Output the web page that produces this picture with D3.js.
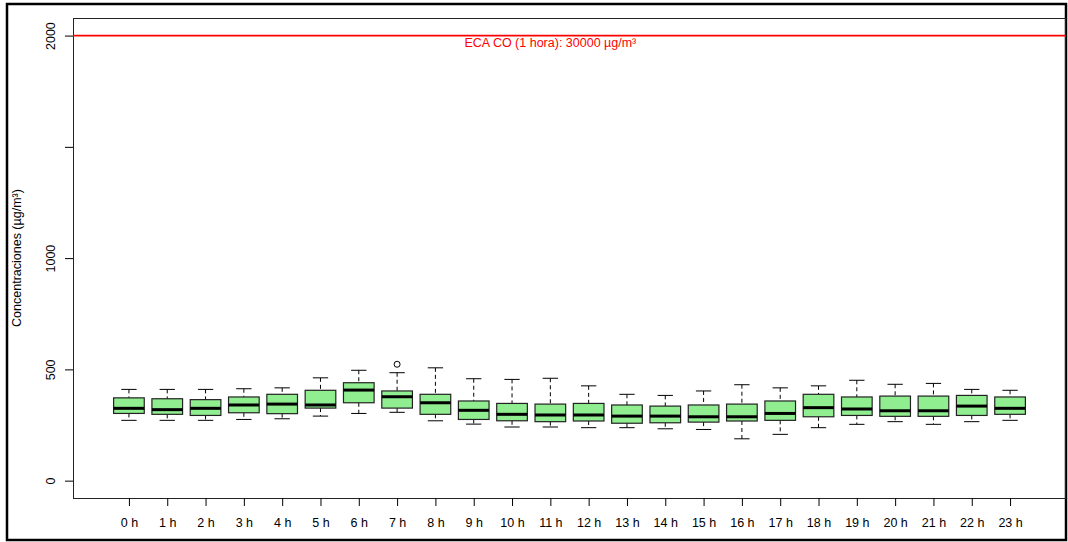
<!DOCTYPE html>
<html>
<head>
<meta charset="utf-8">
<script src="https://cdn.jsdelivr.net/npm/d3@7"></script>
<style>
  body { margin: 0; background: #fff; }
  text { font-family: "Liberation Sans", Arial, sans-serif; }
</style>
</head>
<body>
<svg id="chart" width="1068" height="542"></svg>
<script>
// hourly CO concentrations (ug/m3)
var hours = ["0 h", "1 h", "2 h", "3 h", "4 h", "5 h", "6 h", "7 h", "8 h", "9 h", "10 h", "11 h",
             "12 h", "13 h", "14 h", "15 h", "16 h", "17 h", "18 h", "19 h", "20 h", "21 h", "22 h", "23 h"];
var lowWhisker = [271, 271, 271, 275, 278, 290, 302, 307, 269, 254, 241, 241,
                  238, 238, 233, 230, 188, 208, 238, 253, 265, 253, 265, 271];
var q1 = [302, 298, 293, 305, 301, 326, 350, 326, 298, 275, 269, 265,
          268, 258, 260, 263, 268, 271, 287, 293, 289, 289, 293, 298];
var medians = [325, 319, 325, 340, 344, 340, 407, 377, 350, 316, 298, 295,
               295, 290, 290, 287, 287, 302, 328, 322, 314, 314, 335, 325];
var q3 = [372, 368, 364, 376, 388, 406, 440, 403, 388, 358, 347, 344,
          347, 340, 335, 340, 344, 358, 388, 376, 380, 380, 383, 376];
var highWhisker = [410, 410, 410, 413, 417, 462, 496, 485, 507, 458, 455, 460,
                   426, 388, 383, 403, 431, 417, 426, 451, 433, 437, 410, 406];
var outliers = [{hour: 7, value: 523}];
var yTicks = [0, 500, 1000, 1500, 2000];
var yLabels = ["0", "500", "1000", "", "2000"];
var ecaValue = 2000;
var ecaLabel = "ECA CO (1 hora): 30000 µg/m³";
var yTitle = "Concentraciones (µg/m³)";

var svg = d3.select("#chart");
var plot = {left: 73, right: 1066, top: 18, bottom: 498};

// R style: positions 1..24, xlim 0.5..24.5 with 4% padding
var x = d3.scaleLinear().domain([0.5 - 0.96, 24.5 + 0.96]).range([plot.left, plot.right]);
var y = d3.scaleLinear().domain([-78, 2079]).range([plot.bottom, plot.top]);
var boxW = x(0.4) - x(0);
var capW = x(0.2) - x(0);

// outer frame
svg.append("rect")
    .attr("x", 7).attr("y", 4)
    .attr("width", 1059).attr("height", 536)
    .attr("fill", "none").attr("stroke", "#000").attr("stroke-width", 2.5);

// plot box
svg.append("rect")
    .attr("x", plot.left + 0.5).attr("y", plot.top + 0.5)
    .attr("width", plot.right - plot.left - 1).attr("height", plot.bottom - plot.top)
    .attr("fill", "none").attr("stroke", "#222").attr("stroke-width", 1);

// y axis, labels turned like R's default las=0
var yAxis = d3.axisLeft(y).tickValues(yTicks).tickSize(8)
    .tickFormat(function(d, i) { return yLabels[i]; });
var gy = svg.append("g").attr("transform", "translate(" + plot.left + ",0)").call(yAxis);
gy.select(".domain").remove();
gy.selectAll("line").attr("stroke", "#000");
gy.selectAll("text")
    .attr("font-size", "12.5px")
    .attr("fill", "#000")
    .attr("text-anchor", "middle")
    .attr("x", 0)
    .attr("y", -18)
    .attr("dy", 0)
    .attr("transform", "rotate(-90)");

// x axis
var xAxis = d3.axisBottom(x).tickValues(d3.range(1, hours.length + 1)).tickSize(8).tickPadding(12)
    .tickFormat(function(d) { return hours[d - 1]; });
var gx = svg.append("g").attr("transform", "translate(0," + plot.bottom + ")").call(xAxis);
gx.select(".domain").remove();
gx.selectAll("line").attr("stroke", "#000");
gx.selectAll("text").attr("font-size", "12.5px").attr("fill", "#000");

// y title
svg.append("text")
    .attr("transform", "translate(21," + ((plot.top + plot.bottom) / 2) + ") rotate(-90)")
    .attr("text-anchor", "middle")
    .attr("font-size", "12.5px")
    .text(yTitle);

// boxes
var boxes = svg.append("g");
hours.forEach(function(h, i) {
    var cx = x(i + 1);
    var g = boxes.append("g");
    // whiskers
    g.append("line")
        .attr("x1", cx).attr("x2", cx)
        .attr("y1", y(highWhisker[i])).attr("y2", y(q3[i]))
        .attr("stroke", "#000").attr("stroke-dasharray", "4,3");
    g.append("line")
        .attr("x1", cx).attr("x2", cx)
        .attr("y1", y(q1[i])).attr("y2", y(lowWhisker[i]))
        .attr("stroke", "#000").attr("stroke-dasharray", "4,3");
    [highWhisker[i], lowWhisker[i]].forEach(function(v) {
        g.append("line")
            .attr("x1", cx - capW).attr("x2", cx + capW)
            .attr("y1", y(v)).attr("y2", y(v))
            .attr("stroke", "#000");
    });
    g.append("rect")
        .attr("x", cx - boxW).attr("width", 2 * boxW)
        .attr("y", y(q3[i])).attr("height", y(q1[i]) - y(q3[i]))
        .attr("fill", "#90ee90").attr("stroke", "#222").attr("stroke-width", 1.2);
    g.append("line")
        .attr("x1", cx - boxW).attr("x2", cx + boxW)
        .attr("y1", y(medians[i])).attr("y2", y(medians[i]))
        .attr("stroke", "#000").attr("stroke-width", 3);
});

outliers.forEach(function(o) {
    svg.append("circle")
        .attr("cx", x(o.hour + 1)).attr("cy", y(o.value))
        .attr("r", 3).attr("fill", "none").attr("stroke", "#000");
});

// ECA reference line
svg.append("line")
    .attr("x1", plot.left).attr("x2", plot.right)
    .attr("y1", y(ecaValue)).attr("y2", y(ecaValue))
    .attr("stroke", "red").attr("stroke-width", 1.6);
svg.append("text")
    .attr("x", x(12)).attr("y", y(ecaValue) + 11.5)
    .attr("text-anchor", "middle")
    .attr("font-size", "12.5px")
    .attr("fill", "red")
    .text(ecaLabel);
</script>
</body>
</html>
